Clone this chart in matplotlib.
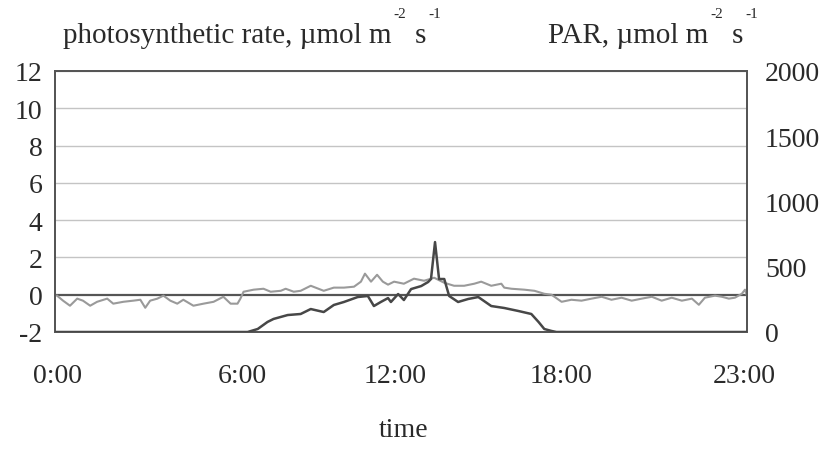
import matplotlib
matplotlib.use("Agg")
import matplotlib.pyplot as plt

plt.rcParams['font.family'] = ['Liberation Serif', 'DejaVu Serif']

# photosynthetic rate (left axis), time in hours
ps_time = [0.07, 0.28, 0.52, 0.77, 0.97, 1.22, 1.46, 1.81, 2.02, 2.37, 2.71, 2.96, 3.13, 3.30,
           3.55, 3.76, 4.00, 4.24, 4.45, 4.80, 5.15, 5.50, 5.84, 6.09, 6.33, 6.43, 6.54, 6.89,
           7.23, 7.48, 7.83, 8.00, 8.28, 8.52, 8.87, 9.32, 9.67, 10.02, 10.37, 10.61, 10.75,
           10.96, 11.17, 11.37, 11.55, 11.76, 12.10, 12.45, 12.80, 13.15, 13.50, 13.84, 14.19,
           14.54, 14.78, 15.13, 15.48, 15.58, 15.83, 16.28, 16.63, 16.97, 17.22, 17.57, 17.91,
           18.26, 18.61, 18.96, 19.30, 19.65, 20.00, 20.35, 20.70, 21.04, 21.39, 21.74, 22.09,
           22.33, 22.54, 22.89, 23.13, 23.37, 23.58, 23.82, 23.93, 24.0]
ps_rate = [-0.05, -0.32, -0.59, -0.21, -0.32, -0.59, -0.38, -0.21, -0.48, -0.38, -0.32, -0.27,
           -0.70, -0.32, -0.21, -0.05, -0.32, -0.48, -0.27, -0.59, -0.48, -0.38, -0.11, -0.48,
           -0.48, -0.21, 0.16, 0.27, 0.32, 0.16, 0.21, 0.32, 0.16, 0.21, 0.48, 0.21, 0.38, 0.38,
           0.43, 0.70, 1.13, 0.70, 1.07, 0.70, 0.54, 0.70, 0.59, 0.86, 0.75, 0.91, 0.64, 0.48,
           0.48, 0.59, 0.70, 0.48, 0.59, 0.38, 0.32, 0.27, 0.21, 0.05, 0.0, -0.38, -0.27, -0.32,
           -0.21, -0.11, -0.27, -0.16, -0.32, -0.21, -0.11, -0.32, -0.16, -0.32, -0.21, -0.54,
           -0.16, -0.05, -0.11, -0.21, -0.16, 0.05, 0.27, -0.05]

# PAR (right axis)
par_time = [0.0, 6.68, 7.03, 7.37, 7.58, 8.07, 8.52, 8.87, 9.32, 9.67, 10.02, 10.50, 10.85,
            11.06, 11.30, 11.55, 11.65, 11.90, 12.10, 12.35, 12.70, 12.94, 13.04, 13.18, 13.32,
            13.50, 13.67, 13.98, 14.33, 14.68, 15.13, 15.58, 16.07, 16.52, 16.77, 16.97, 17.22,
            17.39, 24.0]
par_value = [0, 0, 23, 77, 100, 130, 138, 176, 153, 207, 230, 268, 276, 199, 230, 260, 230,
             291, 245, 329, 352, 383, 406, 689, 406, 406, 276, 230, 253, 268, 199, 184, 161,
             138, 77, 23, 8, 0, 0]

x_tick_pos = [0.1, 6.5, 11.8, 17.55, 23.9]
x_tick_labels = ['0:00', '6:00', '12:00', '18:00', '23:00']
left_ticks = [-2, 0, 2, 4, 6, 8, 10, 12]
right_ticks = [0, 500, 1000, 1500, 2000]

TXT = '#2a2a2a'

fig = plt.figure(figsize=(8.26, 4.6), dpi=100)
ax = fig.add_axes([55/826, 1-333/460, 692/826, 261/460])
ax2 = ax.twinx()

ax.set_xlim(0, 24)
ax.set_ylim(-2, 12)
ax2.set_ylim(0, 2000)

for y in left_ticks[2:]:
    ax.axhline(y, color='#c4c4c4', lw=1.0, zorder=1)
ax.axhline(0, color='#555555', lw=1.6, zorder=2)

ax.plot(ps_time, ps_rate, color='#9a9a9a', lw=1.5, zorder=3)
ax2.plot(par_time, par_value, color='#474747', lw=1.8, zorder=3)

ax.set_yticks(left_ticks)
ax.set_yticklabels([str(v) for v in left_ticks])
ax2.set_yticks(right_ticks)
ax2.set_yticklabels([str(v) for v in right_ticks])
ax.set_xticks(x_tick_pos)
ax.set_xticklabels(x_tick_labels)

ax.tick_params(axis='y', length=0, pad=9, labelsize=20, colors=TXT)
ax.tick_params(axis='x', length=0, pad=22, labelsize=20, colors=TXT)
ax2.tick_params(axis='y', length=0, pad=13, labelsize=20, colors=TXT)

for a in (ax, ax2):
    for s in a.spines.values():
        s.set_color('#555555')
        s.set_linewidth(1.3)

renderer = fig.canvas.get_renderer()


def unit_title(x_px, baseline_px, prefix):
    """Draw prefix + m^-2 s^-1 with plain-hyphen superscripts, piece by piece."""
    pieces = [(prefix + " m", 21, 0, 2), ("-2", 11, 25, 9), ("s", 21, 0, 2), ("-1", 11, 25, 0)]
    x = x_px
    for txt, size, rise, gap in pieces:
        t = fig.text(x / 826, 1 - (baseline_px - rise) / 460, txt, fontsize=size,
                     color=TXT, ha='left', va='baseline')
        bb = t.get_window_extent(renderer=renderer)
        x = bb.x1 + gap


unit_title(63, 43, "photosynthetic rate, µmol")
unit_title(548, 43, "PAR, µmol")

fig.text(404/826, 1-431/460, "time", fontsize=20, color=TXT, ha='center', va='center')

fig.savefig("out.png", dpi=100, facecolor='white')
